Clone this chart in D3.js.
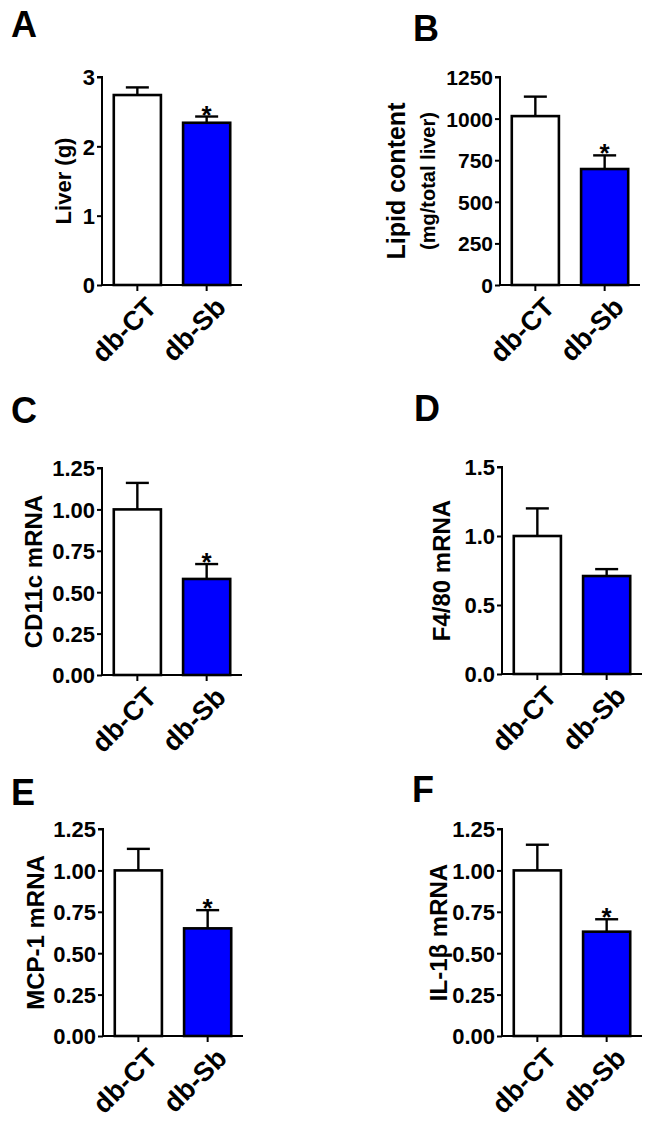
<!DOCTYPE html>
<html>
<head>
<meta charset="utf-8">
<script src="https://cdn.jsdelivr.net/npm/d3@7"></script>
<style>
  body { margin: 0; background: #fff; }
  text { font-family: 'Liberation Sans', Arial, sans-serif; font-weight: bold; fill: #000; }
</style>
</head>
<body>
<script>
// groups
const groups = ['db-CT', 'db-Sb'];

// means and SEM
const liver = [2.74, 2.34],     liverErr = [0.11, 0.09];
const lipid = [1015, 697],      lipidErr = [117, 82];
const cd11c = [1.00, 0.58],     cd11cErr = [0.16, 0.09];
const f480 = [1.00, 0.71],      f480Err = [0.20, 0.05];
const mcp1 = [1.00, 0.65],      mcp1Err = [0.13, 0.11];
const il1b = [1.00, 0.63],      il1bErr = [0.155, 0.075];

// significance marks per group
const starsA = ['', '*'], starsB = ['', '*'], starsC = ['', '*'];
const starsD = ['', ''], starsE = ['', '*'], starsF = ['', '*'];

// tick values
const ticksA = [0, 1, 2, 3];
const ticksB = [0, 250, 500, 750, 1000, 1250];
const ticks125 = [0, 0.25, 0.5, 0.75, 1, 1.25];
const ticksD = [0, 0.5, 1, 1.5];

const fills = ['#ffffff', '#0000ff'];

const W = 650, H = 1135;
const svg = d3.select('body').append('svg').attr('width', W).attr('height', H);

const panels = [
  {letter: 'A', lx: 11, ly: 37, ox: 102, top: 77, bot: 285, vals: liver, errs: liverErr, stars: starsA,
   max: 3, ticks: ticksA, fmt: d3.format('d'), tfs: 22, label: ['Liver (g)'], labx: [71], fs: [22]},
  {letter: 'B', lx: 413, ly: 41, ox: 500, top: 77, bot: 285, vals: lipid, errs: lipidErr, stars: starsB,
   max: 1250, ticks: ticksB, fmt: d3.format('d'), tfs: 21, label: ['Lipid content', '(mg/total liver)'], labx: [405, 435], fs: [25, 20]},
  {letter: 'C', lx: 11, ly: 423, ox: 102, top: 468, bot: 675, vals: cd11c, errs: cd11cErr, stars: starsC,
   max: 1.25, ticks: ticks125, fmt: d3.format('.2f'), tfs: 22, label: ['CD11c mRNA'], labx: [42], fs: [24]},
  {letter: 'D', lx: 414, ly: 421, ox: 502, top: 467, bot: 674, vals: f480, errs: f480Err, stars: starsD,
   max: 1.5, ticks: ticksD, fmt: d3.format('.1f'), tfs: 22, label: ['F4/80 mRNA'], labx: [450], fs: [24]},
  {letter: 'E', lx: 11, ly: 805, ox: 103, top: 829, bot: 1036, vals: mcp1, errs: mcp1Err, stars: starsE,
   max: 1.25, ticks: ticks125, fmt: d3.format('.2f'), tfs: 22, label: ['MCP-1 mRNA'], labx: [44], fs: [24]},
  {letter: 'F', lx: 412, ly: 802, ox: 502, top: 829, bot: 1036, vals: il1b, errs: il1bErr, stars: starsF,
   max: 1.25, ticks: ticks125, fmt: d3.format('.2f'), tfs: 22, label: ['IL-1\u03b2 mRNA'], labx: [447], fs: [24]}
];

panels.forEach(p => {
  const g = svg.append('g');

  g.append('text').text(p.letter).attr('x', p.lx).attr('y', p.ly).style('font-size', '36px');

  const x = d3.scaleBand().domain(groups).range([p.ox, p.ox + 140]).paddingInner(0.32).paddingOuter(0.17);
  const y = d3.scaleLinear().domain([0, p.max]).range([p.bot, p.top]);

  // bars
  g.selectAll('rect.bar')
    .data(groups)
    .enter()
    .append('rect')
      .attr('class', 'bar')
      .attr('x', d => x(d))
      .attr('y', (d, i) => y(p.vals[i]))
      .attr('width', x.bandwidth())
      .attr('height', (d, i) => y(0) - y(p.vals[i]))
      .attr('fill', (d, i) => fills[i])
      .attr('stroke', '#000')
      .attr('stroke-width', 2.6);

  // error bars (upper only)
  const cx = d => x(d) + x.bandwidth() / 2;
  g.selectAll('line.stem')
    .data(groups)
    .enter()
    .append('line')
      .attr('x1', cx).attr('x2', cx)
      .attr('y1', (d, i) => y(p.vals[i]))
      .attr('y2', (d, i) => y(p.vals[i] + p.errs[i]))
      .attr('stroke', '#000').attr('stroke-width', 2.4);
  g.selectAll('line.cap')
    .data(groups)
    .enter()
    .append('line')
      .attr('x1', d => cx(d) - 11.5).attr('x2', d => cx(d) + 11.5)
      .attr('y1', (d, i) => y(p.vals[i] + p.errs[i]))
      .attr('y2', (d, i) => y(p.vals[i] + p.errs[i]))
      .attr('stroke', '#000').attr('stroke-width', 2.4);

  // stars
  g.selectAll('text.star')
    .data(groups)
    .enter()
    .append('text')
      .text((d, i) => p.stars[i])
      .attr('x', cx)
      .attr('y', (d, i) => y(p.vals[i] + p.errs[i]) + 7)
      .attr('text-anchor', 'middle')
      .style('font-size', '26px');

  // y axis
  const yAxis = g.append('g')
    .attr('transform', `translate(${p.ox},0)`)
    .call(d3.axisLeft(y).tickValues(p.ticks).tickFormat(p.fmt).tickSize(5).tickPadding(2));
  yAxis.select('.domain').attr('stroke-width', 2).attr('d', `M-5,${p.top}H0V${p.bot}`);
  yAxis.selectAll('.tick line').attr('stroke-width', 2);
  yAxis.selectAll('.tick text').style('font-size', p.tfs + 'px').attr('dy', '0.36em');

  // x axis
  const xAxis = g.append('g')
    .attr('transform', `translate(0,${p.bot})`)
    .call(d3.axisBottom(x).tickSize(6).tickSizeOuter(0));
  xAxis.select('.domain').attr('stroke-width', 2).attr('d', `M${p.ox},0H${p.ox + 140}`);
  xAxis.selectAll('.tick line').attr('stroke-width', 2);
  xAxis.selectAll('.tick text')
    .style('font-size', '27px')
    .attr('text-anchor', 'end')
    .attr('dy', '0.6em')
    .attr('transform', 'translate(3,6) rotate(-45)');

  // y label
  const mid = (p.top + p.bot) / 2;
  p.label.forEach((t, k) => {
    g.append('text').text(t)
      .attr('transform', `translate(${p.labx[k]},${mid}) rotate(-90)`)
      .attr('text-anchor', 'middle')
      .style('font-size', p.fs[k] + 'px');
  });
});
</script>
</body>
</html>
